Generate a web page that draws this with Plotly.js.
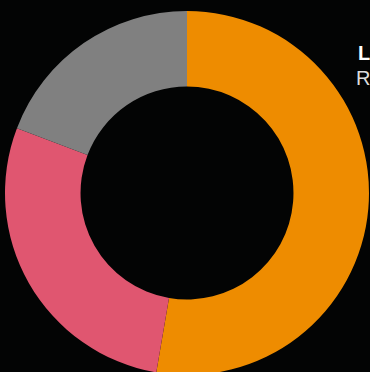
<!DOCTYPE html>
<html>
<head>
<meta charset="utf-8">
<script src="https://cdn.plot.ly/plotly-3.0.1.min.js"></script>
<style>
html,body{margin:0;padding:0;background:#030404;overflow:hidden;width:370px;height:372px;}
#chart{width:370px;height:400px;}
</style>
</head>
<body>
<div id="chart"></div>
<script>
var labels = ["Orange", "Pink", "Gray"];
var values = [52.7, 28.1, 19.2];
var colors = ["#EE8C00", "#E05670", "#808080"];
var legendTitle = "Legend";
var legendItem = "Rest";

var trace = {
  type: "pie",
  labels: labels,
  values: values,
  hole: 0.585,
  sort: false,
  direction: "clockwise",
  rotation: 0,
  textinfo: "none",
  hoverinfo: "label+percent",
  marker: {colors: colors, line: {width: 0}},
  domain: {x: [5/370, 369/370], y: [0, 1]},
  showlegend: false
};

var layout = {
  width: 370,
  height: 400,
  margin: {l: 0, r: 0, t: 11, b: 25},
  paper_bgcolor: "#030404",
  plot_bgcolor: "#030404",
  showlegend: false,
  annotations: [
    {text: "<b>" + legendTitle + "</b>", xref: "paper", yref: "paper", x: 356/370, y: 1 - (53 - 11)/364,
     xanchor: "left", yanchor: "middle", showarrow: false,
     font: {family: "Liberation Sans, Arial, sans-serif", size: 20, color: "#FFFFFF"}},
    {text: legendItem, xref: "paper", yref: "paper", x: 354/370, y: 1 - (78 - 11)/364,
     xanchor: "left", yanchor: "middle", showarrow: false,
     font: {family: "Liberation Sans, Arial, sans-serif", size: 20, color: "#DDDDDD"}}
  ]
};

Plotly.newPlot("chart", [trace], layout, {displayModeBar: false, staticPlot: true});
</script>
</body>
</html>
